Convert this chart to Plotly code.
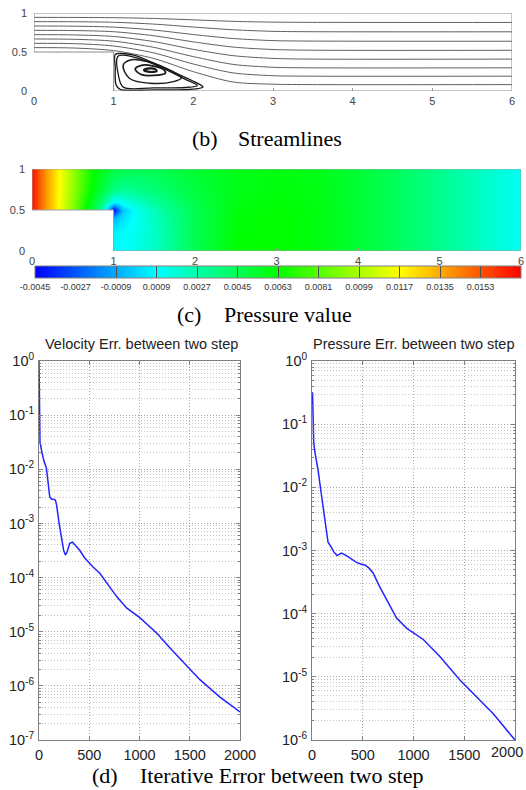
import plotly.graph_objects as go

# ---------------- data ----------------
# (b) streamlines: through-flow lines sampled at x stations
STREAM_X = [0, 0.5, 1.0, 1.5, 2.0, 2.5, 3.0, 3.5, 6.0]
STREAM_1 = [0.944, 0.943, 0.940, 0.930, 0.912, 0.893, 0.883, 0.880, 0.879]
STREAM_2 = [0.889, 0.888, 0.881, 0.858, 0.820, 0.785, 0.765, 0.760, 0.759]
STREAM_3 = [0.833, 0.831, 0.819, 0.782, 0.724, 0.673, 0.646, 0.640, 0.638]
STREAM_4 = [0.778, 0.775, 0.760, 0.709, 0.630, 0.563, 0.532, 0.523, 0.522]
STREAM_5 = [0.722, 0.719, 0.699, 0.634, 0.534, 0.453, 0.418, 0.409, 0.409]
STREAM_6 = [0.667, 0.663, 0.639, 0.560, 0.441, 0.341, 0.304, 0.297, 0.297]
STREAM_7 = [0.611, 0.607, 0.577, 0.489, 0.346, 0.232, 0.196, 0.190, 0.190]
STREAM_8 = [0.556, 0.551, 0.518, 0.418, 0.248, 0.115, 0.087, 0.082, 0.082]

# recirculation loops behind the step
VORTEX_A_X = [1.02, 1.02, 1.03, 1.08, 1.50, 1.95, 2.12, 2.05, 1.80, 1.50, 1.25, 1.10, 1.02]
VORTEX_A_Y = [0.47, 0.30, 0.08, 0.02, 0.015, 0.02, 0.05, 0.10, 0.22, 0.36, 0.46, 0.48, 0.47]
VORTEX_B_X = [1.05, 1.06, 1.12, 1.50, 1.90, 2.05, 1.90, 1.60, 1.30, 1.12, 1.05]
VORTEX_B_Y = [0.44, 0.20, 0.05, 0.04, 0.045, 0.07, 0.15, 0.30, 0.42, 0.46, 0.44]
VORTEX_C_X = [1.12, 1.20, 1.45, 1.75, 1.85, 1.70, 1.45, 1.22, 1.12]
VORTEX_C_Y = [0.33, 0.16, 0.10, 0.12, 0.17, 0.27, 0.37, 0.40, 0.33]
VORTEX_D_X = [1.27, 1.35, 1.50, 1.65, 1.62, 1.50, 1.35, 1.27]
VORTEX_D_Y = [0.28, 0.21, 0.20, 0.23, 0.28, 0.32, 0.33, 0.28]
VORTEX_E_X = [1.38, 1.45, 1.54, 1.52, 1.45, 1.38]
VORTEX_E_Y = [0.27, 0.245, 0.255, 0.28, 0.29, 0.27]

# (c) pressure field (read on a coarse grid)
PRESS_X = [0, 0.15, 0.33, 0.5, 0.7, 0.85, 1.0, 1.1, 1.25, 1.5, 1.75, 2.0, 2.5, 3.0, 3.5, 4.0, 4.5, 5.0, 5.5, 6.0]
PRESS_Y = [0, 0.25, 0.4, 0.5, 0.6, 0.75, 1.0]
P_ROW_000 = [0.0168, 0.0142, 0.0116, 0.0091, 0.0057, 0.0030, 0.0009, 0.0010, 0.0013, 0.0021, 0.0034, 0.0046, 0.0063, 0.0064, 0.0060, 0.0052, 0.0043, 0.0033, 0.0022, 0.0011]
P_ROW_025 = [0.0168, 0.0142, 0.0116, 0.0091, 0.0057, 0.0030, 0.0006, 0.0008, 0.0012, 0.0021, 0.0034, 0.0046, 0.0062, 0.0064, 0.0060, 0.0052, 0.0043, 0.0033, 0.0022, 0.0011]
P_ROW_040 = [0.0168, 0.0142, 0.0116, 0.0091, 0.0057, 0.0030, -0.0006, 0.0002, 0.0010, 0.0022, 0.0035, 0.0046, 0.0061, 0.0064, 0.0060, 0.0052, 0.0043, 0.0033, 0.0022, 0.0011]
P_ROW_050 = [0.0168, 0.0142, 0.0116, 0.0091, 0.0057, 0.0030, -0.0042, -0.0004, 0.0010, 0.0024, 0.0036, 0.0046, 0.0060, 0.0063, 0.0060, 0.0052, 0.0043, 0.0033, 0.0022, 0.0011]
P_ROW_060 = [0.0168, 0.0142, 0.0116, 0.0092, 0.0060, 0.0040, 0.0008, 0.0012, 0.0020, 0.0030, 0.0040, 0.0048, 0.0059, 0.0062, 0.0059, 0.0052, 0.0043, 0.0033, 0.0022, 0.0011]
P_ROW_075 = [0.0168, 0.0142, 0.0117, 0.0094, 0.0066, 0.0050, 0.0035, 0.0032, 0.0033, 0.0038, 0.0044, 0.0050, 0.0058, 0.0061, 0.0059, 0.0052, 0.0043, 0.0033, 0.0022, 0.0011]
P_ROW_100 = [0.0168, 0.0142, 0.0117, 0.0095, 0.0070, 0.0058, 0.0050, 0.0047, 0.0045, 0.0046, 0.0049, 0.0053, 0.0058, 0.0060, 0.0058, 0.0052, 0.0043, 0.0033, 0.0022, 0.0011]
CBAR_MIN, CBAR_MAX = -0.0045, 0.0171
CBAR_TICKS = [-0.0045, -0.0027, -0.0009, 0.0009, 0.0027, 0.0045, 0.0063, 0.0081, 0.0099, 0.0117, 0.0135, 0.0153]
CBAR_LABELS = ["-0.0045", "-0.0027", "-0.0009", "0.0009", "0.0027", "0.0045", "0.0063", "0.0081", "0.0099", "0.0117", "0.0135", "0.0153"]
STEP_X, STEP_Y = 1.0, 0.5

# (d) iterative errors
VEL_ITER = [0, 2, 5, 10, 30, 50, 74, 95, 107, 125, 140, 163, 175, 200, 223, 245, 263, 280, 306, 333, 370, 405, 455, 488, 540, 605, 690, 771, 871, 1003, 1170, 1336, 1601, 1800, 2000]
VEL_ERR = [1.0, 0.3, 0.06, 0.032, 0.02, 0.014, 0.0105, 0.005, 0.0031, 0.0028, 0.0028, 0.0027, 0.0022, 0.0010, 0.00050, 0.00032, 0.00026, 0.00030, 0.00043, 0.00045, 0.00038, 0.00032, 0.00023, 0.000195, 0.000155, 0.00012, 0.000072, 0.000045, 0.0000275, 0.0000182, 0.0000095, 0.0000043, 0.0000013, 0.00000062, 0.00000033]
PRES_ITER = [5, 12, 17, 30, 59, 100, 140, 158, 191, 215, 247, 270, 290, 339, 400, 438, 480, 520, 560, 602, 660, 734, 790, 833, 931, 1000, 1096, 1260, 1457, 1786, 2000]
PRES_ERR = [0.32, 0.12, 0.05, 0.035, 0.019, 0.0063, 0.0020, 0.00135, 0.00112, 0.00095, 0.00083, 0.00088, 0.00091, 0.00083, 0.00070, 0.00065, 0.00061, 0.00059, 0.00053, 0.00044, 0.00028, 0.000166, 0.000110, 0.000085, 0.000059, 0.000049, 0.000039, 0.000021, 0.0000089, 0.0000026, 0.00000100]
ITER_TICKS = [0, 500, 1000, 1500, 2000]
ITER_LABELS = ["0", "500", "1000", "1500", "2000"]

# ---------------- figure ----------------
W, H = 526, 790
def px(xp):
    return xp / W
def py(yp):
    return 1 - yp / H

SANS = "Arial, Liberation Sans, sans-serif"
SERIF = "Times New Roman, Liberation Serif, serif"
DOTS = "1px,2px"

fig = go.Figure()

stream_lines = [STREAM_1, STREAM_2, STREAM_3, STREAM_4, STREAM_5, STREAM_6, STREAM_7, STREAM_8]
for ys in stream_lines:
    fig.add_trace(go.Scatter(x=STREAM_X, y=ys, mode="lines", xaxis="x", yaxis="y",
                             line=dict(color="#606060", width=1, shape="spline", smoothing=0.8),
                             hoverinfo="skip", showlegend=False))
for vx, vy, w in [(VORTEX_A_X, VORTEX_A_Y, 1.4), (VORTEX_B_X, VORTEX_B_Y, 1.3),
                  (VORTEX_C_X, VORTEX_C_Y, 1.5), (VORTEX_D_X, VORTEX_D_Y, 1.8),
                  (VORTEX_E_X, VORTEX_E_Y, 2.2)]:
    fig.add_trace(go.Scatter(x=vx, y=vy, mode="lines", xaxis="x", yaxis="y",
                             line=dict(color="#1a1a1a", width=w, shape="spline", smoothing=1.0),
                             hoverinfo="skip", showlegend=False))

jet = [[0.0, "#0000ff"], [0.25, "#00ffff"], [0.5, "#00ff00"], [0.75, "#ffff00"], [1.0, "#ff0000"]]
fig.add_trace(go.Heatmap(
    x=PRESS_X, y=PRESS_Y,
    z=[P_ROW_000, P_ROW_025, P_ROW_040, P_ROW_050, P_ROW_060, P_ROW_075, P_ROW_100],
    xaxis="x2", yaxis="y2", zsmooth="best", colorscale=jet, zmin=CBAR_MIN, zmax=CBAR_MAX,
    hoverinfo="skip",
    colorbar=dict(orientation="h", x=px(35), xanchor="left", y=py(266), yanchor="top",
                  len=486, lenmode="pixels", thickness=12, thicknessmode="pixels",
                  xpad=0, ypad=0, outlinewidth=1, outlinecolor="#808080",
                  tickmode="array", tickvals=CBAR_TICKS, ticktext=CBAR_LABELS,
                  ticks="inside", ticklen=12, tickwidth=1, tickcolor="#505050",
                  tickfont=dict(family=SANS, size=9, color="#333"))))

fig.add_trace(go.Scatter(x=VEL_ITER, y=VEL_ERR, mode="lines", xaxis="x3", yaxis="y3",
                         line=dict(color="#2424ff", width=1.5), hoverinfo="skip", showlegend=False))
fig.add_trace(go.Scatter(x=PRES_ITER, y=PRES_ERR, mode="lines", xaxis="x4", yaxis="y4",
                         line=dict(color="#2424ff", width=1.5), hoverinfo="skip", showlegend=False))

small_font = dict(family=SANS, size=11, color="#444")
field_x = dict(range=[0, 6], tickvals=[0, 1, 2, 3, 4, 5, 6], showgrid=False, zeroline=False,
               showline=False, ticks="inside", ticklen=3, tickcolor="#999", tickfont=small_font,
               ticklabelstandoff=2, automargin=False)
field_y = dict(range=[0, 1], tickvals=[0, 0.5, 1], ticktext=["0", "0.5", "1"], showgrid=False,
               zeroline=False, showline=False, ticks="", tickfont=small_font, ticklabelstandoff=6,
               automargin=False)

def log_ticks(lo):
    vals = [10.0 ** e for e in range(lo, 1)]
    txt = ["10<sup>%d</sup>" % e for e in range(lo, 1)]
    minor = [k * 10.0 ** e for e in range(lo, 0) for k in range(2, 10)]
    return vals, txt, minor

err_font = dict(family=SANS, size=14.5, color="#222")
def err_x(dom, labels):
    return dict(domain=dom, range=[0, 2000], tickmode="array", tickvals=ITER_TICKS, ticktext=labels,
                showgrid=True, griddash=DOTS,
                gridcolor="#a8a8a8", gridwidth=1, zeroline=False, showline=True, linecolor="#808080",
                linewidth=1, mirror="ticks", ticks="inside", ticklen=4, tickcolor="#808080",
                tickfont=err_font, ticklabelstandoff=2, automargin=False)
def err_y(lo, anchor):
    vals, txt, minor = log_ticks(lo)
    return dict(domain=[py(740), py(361)], anchor=anchor, type="log", range=[lo, 0],
                tickmode="array", tickvals=vals, ticktext=txt, automargin=False,
                showgrid=True, griddash=DOTS, gridcolor="#a8a8a8", gridwidth=1,
                zeroline=False, showline=True, linecolor="#808080", linewidth=1, mirror="ticks",
                ticks="inside", ticklen=4, tickcolor="#808080", tickfont=err_font,
                ticklabelstandoff=1,
                minor=dict(tickmode="array", tickvals=minor, showgrid=True, griddash=DOTS,
                           gridcolor="#c4c4c4", gridwidth=1, ticks="inside", ticklen=2,
                           tickcolor="#808080"))

# right panel: the last label would overflow the page, so it is placed as an annotation
right_labels = ITER_LABELS[:-1] + [""]

fig.update_layout(
    width=W, height=H, margin=dict(l=0, r=0, t=0, b=0, autoexpand=False),
    paper_bgcolor="white", plot_bgcolor="white", showlegend=False,
    xaxis=dict(domain=[px(34), px(512)], anchor="y", **field_x),
    yaxis=dict(domain=[py(91), py(13)], anchor="x", **field_y),
    xaxis2=dict(domain=[px(32), px(521)], anchor="y2", **field_x),
    yaxis2=dict(domain=[py(251), py(169)], anchor="x2", **field_y),
    xaxis3=dict(anchor="y3", **err_x([px(39), px(240)], ITER_LABELS)),
    yaxis3=err_y(-7, "x3"),
    xaxis4=dict(anchor="y4", **err_x([px(312), px(515)], right_labels)),
    yaxis4=err_y(-6, "x4"),
)

# domain geometry: white step region + outlines
outline_path = "M 0 %g L 0 1 L 6 1 L 6 0 L %g 0 L %g %g Z" % (STEP_Y, STEP_X, STEP_X, STEP_Y)
fig.add_shape(type="path", xref="x", yref="y", path=outline_path,
              line=dict(color="#8c8c8c", width=1), layer="above")
fig.add_shape(type="rect", xref="x2", yref="y2", x0=-0.1, y0=-0.1, x1=STEP_X, y1=STEP_Y,
              fillcolor="white", line=dict(width=0), layer="above")
fig.add_shape(type="path", xref="x2", yref="y2", path=outline_path,
              line=dict(color="#a0a0a0", width=1), layer="above")

def ann(text, xp, yp, size, family, anchor="left", color="black"):
    fig.add_annotation(text=text, x=px(xp), y=py(yp), xref="paper", yref="paper",
                       xanchor=anchor, yanchor="middle", showarrow=False,
                       font=dict(family=family, size=size, color=color))

ann("(b)", 190, 138, 22, SERIF)
ann("Streamlines", 236, 138, 22, SERIF)
ann("(c)", 175, 314, 22, SERIF)
ann("Pressure value", 222, 314, 22, SERIF)
ann("(d)", 90, 775, 22, SERIF)
ann("Iterative Error between two step", 138, 775, 22, SERIF)
ann("Velocity Err. between two step", 141, 344, 14.5, SANS, anchor="center", color="#222")
ann("Pressure Err. between two step", 414, 344, 14.5, SANS, anchor="center", color="#222")
ann(ITER_LABELS[-1], 525, 752, 14.5, SANS, anchor="right", color="#222")

fig.write_html("out.html", config={"displayModeBar": False},
               post_script="document.body.style.margin='0';document.body.style.overflow='hidden';")
